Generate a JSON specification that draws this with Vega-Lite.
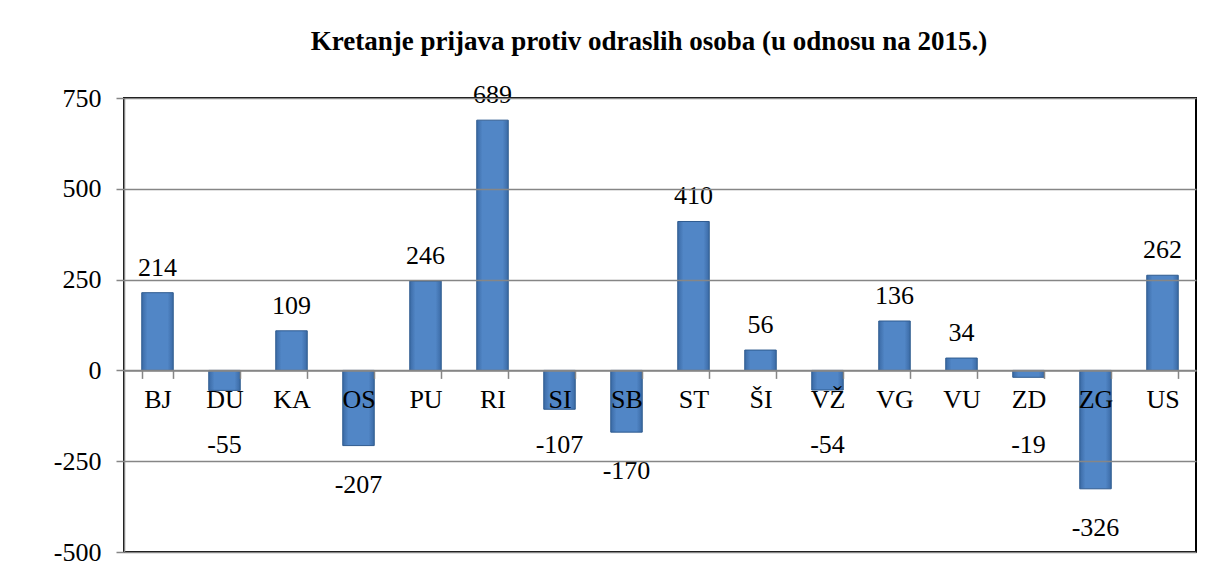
{
  "$schema": "https://vega.github.io/schema/vega-lite/v6.json",
  "autosize": {"type": "none"},
  "padding": {"left": 124, "top": 98, "right": 16, "bottom": 24},
  "width": 1072,
  "height": 454,
  "background": "white",
  "title": {
    "text": "Kretanje prijava protiv odraslih osoba (u odnosu na 2015.)",
    "font": "Liberation Serif, Times New Roman, serif",
    "fontSize": 27,
    "fontWeight": "bold",
    "color": "black",
    "anchor": "middle",
    "frame": "group",
    "dx": -11,
    "offset": 26
  },
  "config": {
    "view": {"stroke": "black", "strokeWidth": 2},
    "axis": {
      "labelFont": "Liberation Serif, Times New Roman, serif",
      "labelFontSize": 26,
      "labelColor": "black",
      "domainColor": "#868686",
      "domainWidth": 1.5,
      "tickColor": "#868686",
      "tickWidth": 1.5,
      "tickSize": 8,
      "gridColor": "#868686",
      "gridWidth": 1.5,
      "gridOpacity": 1
    }
  },
  "data": {
    "values": [
      {"region": "BJ", "value": 214},
      {"region": "DU", "value": -55},
      {"region": "KA", "value": 109},
      {"region": "OS", "value": -207},
      {"region": "PU", "value": 246},
      {"region": "RI", "value": 689},
      {"region": "SI", "value": -107},
      {"region": "SB", "value": -170},
      {"region": "ST", "value": 410},
      {"region": "ŠI", "value": 56},
      {"region": "VŽ", "value": -54},
      {"region": "VG", "value": 136},
      {"region": "VU", "value": 34},
      {"region": "ZD", "value": -19},
      {"region": "ZG", "value": -326},
      {"region": "US", "value": 262}
    ]
  },
  "encoding": {
    "x": {
      "field": "region",
      "type": "nominal",
      "sort": null,
      "scale": {"paddingInner": 0.53, "paddingOuter": 0.265},
      "axis": {
        "title": null,
        "orient": "bottom",
        "offset": -181.6,
        "labelAngle": 0,
        "tickBand": "extent",
        "labelPadding": 8,
        "zindex": 2
      }
    }
  },
  "layer": [
    {
      "mark": {
        "type": "bar",
        "stroke": "#2f5b8f",
        "strokeWidth": 1,
        "color": {
          "gradient": "linear",
          "x1": 0, "y1": 0, "x2": 1, "y2": 0,
          "stops": [
            {"offset": 0, "color": "#3b6aa5"},
            {"offset": 0.18, "color": "#5186c6"},
            {"offset": 0.82, "color": "#5186c6"},
            {"offset": 1, "color": "#3b6aa5"}
          ]
        }
      },
      "encoding": {
        "y": {
          "field": "value",
          "type": "quantitative",
          "scale": {"domain": [-500, 750], "nice": false},
          "axis": {
            "title": null,
            "values": [-500, -250, 0, 250, 500, 750],
            "labelExpr": "toString(datum.value)",
            "labelPadding": 15,
            "grid": true,
            "zindex": 1
          }
        }
      }
    },
    {
      "transform": [{"filter": "datum.value > 0"}],
      "mark": {"type": "text", "font": "Liberation Serif, Times New Roman, serif", "fontSize": 26, "color": "black", "baseline": "alphabetic", "dy": -17},
      "encoding": {
        "y": {"field": "value", "type": "quantitative"},
        "text": {"field": "value", "type": "nominal"}
      }
    },
    {
      "transform": [{"filter": "datum.value < 0 && datum.value > -150"}],
      "mark": {"type": "text", "font": "Liberation Serif, Times New Roman, serif", "fontSize": 26, "color": "black", "baseline": "top", "dy": 0},
      "encoding": {
        "y": {"datum": -170},
        "text": {"field": "value", "type": "nominal"}
      }
    },
    {
      "transform": [{"filter": "datum.value <= -150"}],
      "mark": {"type": "text", "font": "Liberation Serif, Times New Roman, serif", "fontSize": 26, "color": "black", "baseline": "top", "dy": 26},
      "encoding": {
        "y": {"field": "value", "type": "quantitative"},
        "text": {"field": "value", "type": "nominal"}
      }
    }
  ]
}
